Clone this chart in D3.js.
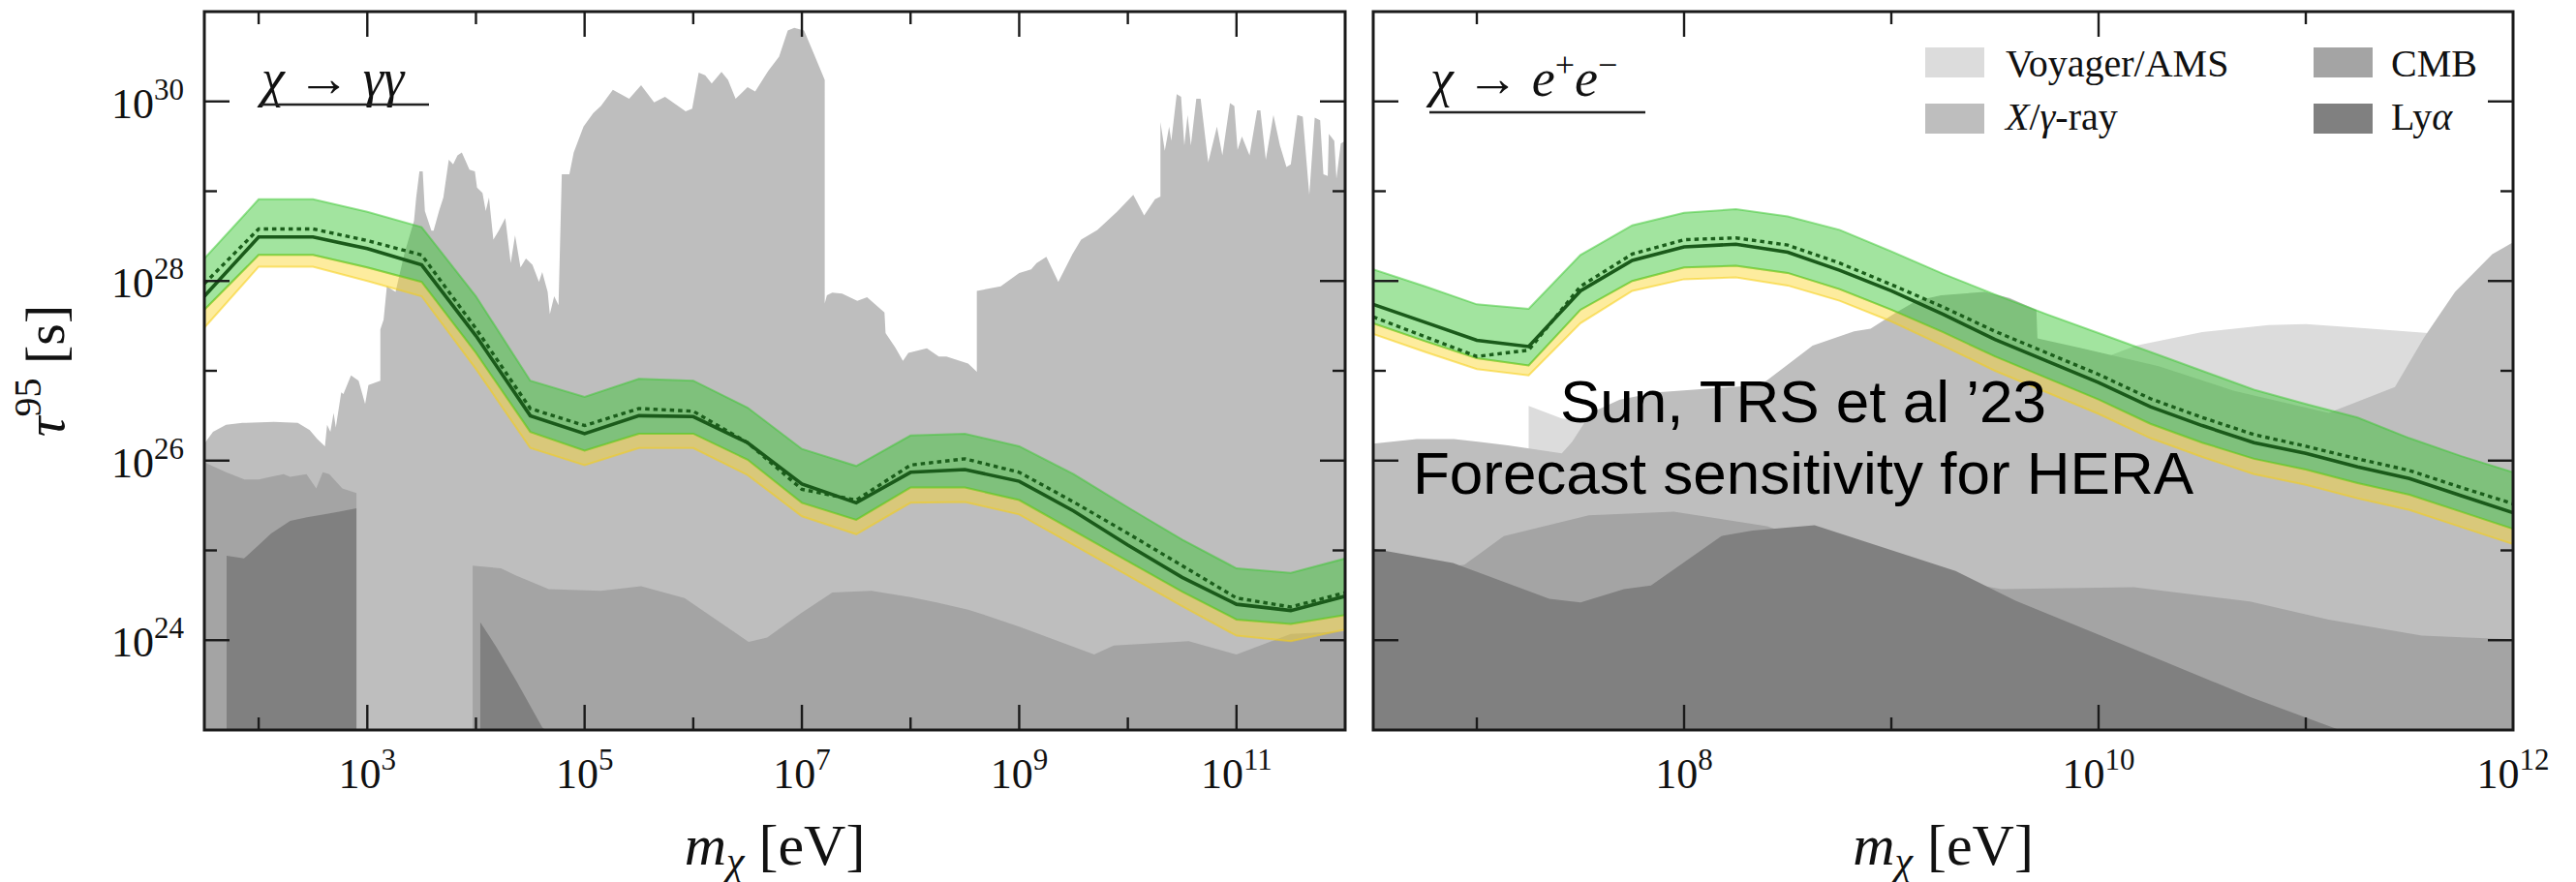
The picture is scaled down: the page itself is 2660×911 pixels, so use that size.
<!DOCTYPE html>
<html>
<head>
<meta charset="utf-8">
<script src="https://cdn.jsdelivr.net/npm/d3@7/dist/d3.min.js"></script>
<style>
  html, body { margin: 0; padding: 0; background: #ffffff; }
  svg { display: block; }
</style>
</head>
<body>
<svg id="fig" width="2660" height="911"></svg>
<script>
// ---------------------------------------------------------------
// Data: all values are log10 (mass in eV, lifetime in s)
// ---------------------------------------------------------------

// chi -> gamma gamma : HERA forecast (half-decade mass grid)
const ggMassExp  = [1.5,2,2.5,3,3.5,4,4.5,5,5.5,6,6.5,7,7.5,8,8.5,9,9.5,10,10.5,11,11.5,12];
const ggMedian   = [27.83,28.49,28.49,28.36,28.18,27.39,26.50,26.30,26.50,26.49,26.20,25.74,25.53,25.87,25.90,25.77,25.44,25.06,24.70,24.40,24.33,24.49];
const ggExpected = [27.97,28.58,28.58,28.45,28.29,27.47,26.58,26.39,26.58,26.55,26.20,25.68,25.56,25.95,26.02,25.87,25.54,25.19,24.83,24.47,24.37,24.53];
const ggBandHi   = [28.25,28.91,28.91,28.77,28.60,27.83,26.89,26.71,26.91,26.89,26.59,26.13,25.94,26.28,26.30,26.16,25.85,25.48,25.12,24.80,24.75,24.91];
const ggBandLo   = [27.68,28.29,28.29,28.15,27.99,27.20,26.32,26.11,26.30,26.30,26.01,25.53,25.34,25.70,25.70,25.56,25.22,24.88,24.54,24.23,24.18,24.28];
const ggBand2Lo  = [27.48,28.16,28.16,28.00,27.83,27.02,26.14,25.95,26.14,26.14,25.84,25.38,25.18,25.53,25.54,25.40,25.06,24.72,24.38,24.05,23.99,24.12];

// chi -> e+ e- : HERA forecast (quarter-decade mass grid)
const eeMassExp  = [6.5,6.75,7,7.25,7.5,7.75,8,8.25,8.5,8.75,9,9.25,9.5,9.75,10,10.25,10.5,10.75,11,11.25,11.5,11.75,12];
const eeMedian   = [27.74,27.54,27.34,27.27,27.89,28.23,28.38,28.41,28.32,28.12,27.89,27.63,27.35,27.11,26.87,26.60,26.39,26.20,26.08,25.93,25.80,25.61,25.42];
const eeExpected = [27.60,27.38,27.16,27.23,27.94,28.30,28.46,28.48,28.40,28.20,27.96,27.71,27.44,27.20,26.96,26.69,26.48,26.29,26.16,26.02,25.89,25.70,25.52];
const eeBandHi   = [28.13,27.94,27.74,27.69,28.29,28.62,28.76,28.80,28.72,28.57,28.33,28.08,27.85,27.63,27.42,27.21,27.00,26.79,26.63,26.48,26.25,26.05,25.87];
const eeBandLo   = [27.53,27.33,27.14,27.06,27.68,28.00,28.15,28.17,28.09,27.91,27.68,27.43,27.16,26.92,26.68,26.41,26.20,26.02,25.90,25.75,25.62,25.43,25.24];
const eeBand2Lo  = [27.41,27.21,27.02,26.95,27.53,27.89,28.02,28.04,27.95,27.78,27.55,27.28,27.00,26.76,26.52,26.25,26.04,25.85,25.73,25.58,25.45,25.26,25.07];

// Existing limits, chi -> gamma gamma : [log10 m, log10 tau] along the upper edge
const ggXray = [[1.50,26.19],[1.58,26.32],[1.70,26.40],[1.85,26.42],[2.14,26.43],[2.36,26.42],[2.47,26.34],[2.54,26.24],[2.61,26.16],[2.63,26.40],[2.66,26.32],[2.69,26.53],[2.71,26.37],[2.76,26.76],[2.78,26.74],[2.85,26.95],[2.92,26.89],[2.98,26.63],[3.01,26.84],[3.12,26.89],[3.12,27.46],[3.15,27.57],[3.18,27.94],[3.26,27.88],[3.34,28.30],[3.43,28.67],[3.45,28.93],[3.48,29.22],[3.51,29.22],[3.53,28.78],[3.59,28.56],[3.61,28.56],[3.66,28.78],[3.70,28.93],[3.75,29.35],[3.79,29.30],[3.83,29.40],[3.87,29.43],[3.90,29.35],[3.94,29.24],[3.99,29.22],[4.01,29.04],[4.06,28.98],[4.09,28.78],[4.12,28.93],[4.16,28.46],[4.21,28.56],[4.27,28.70],[4.32,28.20],[4.36,28.51],[4.41,28.15],[4.46,28.25],[4.52,28.18],[4.58,27.99],[4.61,28.10],[4.66,27.88],[4.68,27.63],[4.72,27.83],[4.76,27.73],[4.79,29.19],[4.86,29.19],[4.90,29.43],[4.99,29.72],[5.08,29.87],[5.15,29.95],[5.26,30.13],[5.41,30.03],[5.52,30.18],[5.64,29.99],[5.74,30.05],[5.93,29.89],[5.99,29.92],[6.05,30.32],[6.11,30.29],[6.17,30.20],[6.26,30.33],[6.32,30.24],[6.39,30.03],[6.50,30.16],[6.57,30.11],[6.69,30.34],[6.79,30.50],[6.87,30.79],[6.93,30.82],[7.02,30.79],[7.11,30.53],[7.21,30.24],[7.21,27.75],[7.23,27.84],[7.28,27.87],[7.37,27.86],[7.51,27.78],[7.60,27.82],[7.76,27.65],[7.77,27.42],[7.86,27.26],[7.93,27.11],[7.98,27.20],[8.15,27.25],[8.26,27.16],[8.33,27.16],[8.53,27.08],[8.61,26.99],[8.61,27.89],[8.83,27.94],[9.00,28.09],[9.11,28.13],[9.16,28.20],[9.25,28.27],[9.36,27.99],[9.49,28.30],[9.57,28.46],[9.72,28.57],[9.90,28.77],[10.05,28.96],[10.15,28.73],[10.25,28.91],[10.30,28.94],[10.30,29.77],[10.34,29.45],[10.38,29.72],[10.40,29.56],[10.45,30.08],[10.49,30.05],[10.52,29.51],[10.55,29.85],[10.58,29.51],[10.63,30.03],[10.67,30.03],[10.74,29.32],[10.82,29.72],[10.87,29.40],[10.94,29.98],[10.98,29.95],[11.01,29.46],[11.05,29.61],[11.12,29.40],[11.19,29.90],[11.22,29.90],[11.27,29.35],[11.34,29.85],[11.40,29.51],[11.46,29.27],[11.50,29.30],[11.56,29.85],[11.61,29.83],[11.67,28.96],[11.72,29.82],[11.77,29.79],[11.80,29.19],[11.84,29.17],[11.85,29.64],[11.90,29.56],[11.92,29.14],[11.96,29.53],[12.00,29.56]];
const ggCmbLow  = [[1.50,25.98],[1.70,25.87],[1.87,25.79],[2.00,25.79],[2.11,25.82],[2.23,25.85],[2.29,25.82],[2.44,25.85],[2.53,25.69],[2.59,25.87],[2.65,25.85],[2.77,25.69],[2.90,25.64]];
const ggCmbHigh = [[3.97,24.83],[4.23,24.80],[4.37,24.72],[4.67,24.57],[5.15,24.55],[5.52,24.60],[5.92,24.47],[6.51,23.98],[6.68,24.03],[6.99,24.30],[7.28,24.53],[7.64,24.55],[8.00,24.48],[8.24,24.42],[8.53,24.34],[8.71,24.27],[9.00,24.15],[9.69,23.84],[9.87,23.94],[10.56,23.99],[11.00,23.84],[11.50,24.07],[12.00,24.10]];
const ggLyaLow  = [[1.705,24.94],[1.865,24.91],[2.00,25.06],[2.115,25.19],[2.29,25.33],[2.445,25.37],[2.59,25.40],[2.74,25.43],[2.90,25.47]];
const ggLyaHigh = [[4.04,24.20],[4.19,23.92],[4.37,23.55],[4.61,23.03],[4.64,23.00]];

// Existing limits, chi -> e+ e-
const eeVoyager = [[7.25,26.61],[7.41,26.47],[7.60,26.42],[8.50,26.60],[9.50,26.90],[10.00,27.12],[10.18,27.28],[10.50,27.43],[10.82,27.51],[11.00,27.52],[11.25,27.48],[11.59,27.42],[12.00,27.20]];
const eeXray = [[6.50,26.19],[6.71,26.24],[6.89,26.24],[7.15,26.17],[7.41,26.08],[7.46,26.21],[7.55,26.53],[7.69,26.68],[7.87,26.76],[8.23,26.82],[8.37,26.84],[8.49,27.05],[8.62,27.28],[8.82,27.44],[8.90,27.47],[9.01,27.63],[9.12,27.78],[9.24,27.84],[9.45,27.88],[9.57,27.81],[9.70,27.68],[9.705,27.36],[9.92,27.25],[10.29,27.05],[10.65,26.78],[11.11,26.53],[11.43,26.82],[11.57,27.37],[11.72,27.88],[11.90,28.30],[12.00,28.43]];
const eeCmb = [[6.50,24.70],[6.94,24.84],[7.13,25.16],[7.54,25.39],[7.95,25.43],[8.40,25.27],[9.00,24.80],[9.53,24.57],[10.17,24.59],[10.73,24.43],[11.11,24.23],[11.56,24.05],[12.00,24.01]];
const eeLya = [[6.50,25.02],[6.885,24.86],[7.35,24.46],[7.50,24.42],[7.71,24.57],[7.84,24.61],[8.18,25.16],[8.33,25.22],[8.63,25.28],[9.31,24.77],[9.60,24.44],[10.32,23.76],[10.73,23.37],[11.15,23.01],[11.20,23.00]];

// Axis ticks (decade exponents)
const tauTicks        = [24,25,26,27,28,29,30];
const tauTickLabels   = [24,26,28,30];
const ggMassTicks     = [2,3,4,5,6,7,8,9,10,11];
const ggMassLabels    = [3,5,7,9,11];
const eeMassTicks     = [7,8,9,10,11];
const eeMassLabels    = [8,10,12];

// Legend entries
const legendNames  = ["Voyager/AMS", "X/γ-ray", "CMB", "Lyα"];
const legendColors = ["#dcdcdc", "#bebebe", "#a4a4a4", "#808080"];

// ---------------------------------------------------------------
const P = v => Math.pow(10, v);
const svg = d3.select("#fig");
const SERIF = "'Liberation Serif', 'DejaVu Serif', serif";
const SANS  = "'Liberation Sans', Arial, sans-serif";

const yTop = 12, yBot = 754;
const y = d3.scaleLog().domain([1e23, 1e31]).range([yBot, yTop]);

const panels = [
  {
    id: "gg",
    x: d3.scaleLog().domain([P(1.5), 1e12]).range([211, 1389]),
    mass: ggMassExp, med: ggMedian, exp: ggExpected, hi: ggBandHi, lo: ggBandLo, lo2: ggBand2Lo,
    layers: [
      { data: ggXray,    color: legendColors[1] },
      { data: ggCmbLow,  color: legendColors[2] },
      { data: ggCmbHigh, color: legendColors[2] },
      { data: ggLyaLow,  color: legendColors[3] },
      { data: ggLyaHigh, color: legendColors[3] }
    ],
    xTicks: ggMassTicks, xLabels: ggMassLabels, majorParity: 1, yLabels: true
  },
  {
    id: "ee",
    x: d3.scaleLog().domain([P(6.5), 1e12]).range([1418, 2595]),
    mass: eeMassExp, med: eeMedian, exp: eeExpected, hi: eeBandHi, lo: eeBandLo, lo2: eeBand2Lo,
    layers: [
      { data: eeVoyager, color: legendColors[0] },
      { data: eeXray,    color: legendColors[1] },
      { data: eeCmb,     color: legendColors[2] },
      { data: eeLya,     color: legendColors[3] }
    ],
    xTicks: eeMassTicks, xLabels: eeMassLabels, majorParity: 0, yLabels: false
  }
];

const defs = svg.append("defs");

panels.forEach(p => {
  const [x0, x1] = p.x.range();
  defs.append("clipPath").attr("id", "clip-" + p.id)
    .append("rect").attr("x", x0).attr("y", yTop).attr("width", x1 - x0).attr("height", yBot - yTop);

  const plot = svg.append("g").attr("clip-path", `url(#clip-${p.id})`);

  // shaded exclusion regions
  const region = d3.area()
    .x(d => p.x(P(d[0])))
    .y0(y(1e23))
    .y1(d => y(P(d[1])));
  p.layers.forEach(L => {
    plot.append("path").datum(L.data).attr("d", region).attr("fill", L.color);
  });

  const idx = d3.range(p.mass.length);
  const mx = i => p.x(P(p.mass[i]));

  // 2-sigma lower strip (yellow) and 1-sigma band (green)
  const yellow = d3.area().x(mx).y0(i => y(P(p.lo2[i]))).y1(i => y(P(p.lo[i])));
  plot.append("path").datum(idx).attr("d", yellow)
    .attr("fill", "rgba(250,212,40,0.45)")
    .attr("stroke", "rgba(245,205,20,0.55)").attr("stroke-width", 2);

  const green = d3.area().x(mx).y0(i => y(P(p.lo[i]))).y1(i => y(P(p.hi[i])));
  plot.append("path").datum(idx).attr("d", green)
    .attr("fill", "rgba(52,196,45,0.46)")
    .attr("stroke", "rgba(60,200,50,0.5)").attr("stroke-width", 2);

  const line = arr => d3.line().x(mx).y(i => y(P(arr[i])));
  plot.append("path").datum(idx).attr("d", line(p.exp))
    .attr("fill", "none").attr("stroke", "#1b5e1b").attr("stroke-width", 3.4)
    .attr("stroke-dasharray", "4.5,4");
  plot.append("path").datum(idx).attr("d", line(p.med))
    .attr("fill", "none").attr("stroke", "#1a5a1a").attr("stroke-width", 3.6);

  // frame and inward ticks on all four sides
  const axes = svg.append("g").attr("stroke", "#1a1a1a").attr("fill", "none");
  const major = 26, minor = 13;
  p.xTicks.forEach(e => {
    const len = (e % 2 === p.majorParity) ? major : minor;
    const xx = p.x(P(e));
    axes.append("line").attr("x1", xx).attr("x2", xx).attr("y1", yBot).attr("y2", yBot - len).attr("stroke-width", 2.4);
    axes.append("line").attr("x1", xx).attr("x2", xx).attr("y1", yTop).attr("y2", yTop + len).attr("stroke-width", 2.4);
  });
  tauTicks.forEach(e => {
    const len = (e % 2 === 0) ? major : minor;
    const yy = y(P(e));
    axes.append("line").attr("x1", x0).attr("x2", x0 + len).attr("y1", yy).attr("y2", yy).attr("stroke-width", 2.4);
    axes.append("line").attr("x1", x1).attr("x2", x1 - len).attr("y1", yy).attr("y2", yy).attr("stroke-width", 2.4);
  });
  axes.append("rect").attr("x", x0).attr("y", yTop).attr("width", x1 - x0).attr("height", yBot - yTop)
    .attr("stroke-width", 3);

  // tick labels 10^n
  const power = (sel, e) => {
    sel.append("tspan").text("10");
    sel.append("tspan").attr("dy", -19).attr("font-size", 31).text(String(e));
  };
  p.xLabels.forEach(e => {
    const t = svg.append("text").attr("x", p.x(P(e))).attr("y", 814)
      .attr("text-anchor", "middle").attr("font-family", SERIF).attr("font-size", 44).attr("fill", "#111");
    power(t, e);
  });
  if (p.yLabels) {
    tauTickLabels.forEach(e => {
      const t = svg.append("text").attr("x", 190).attr("y", y(P(e)) + 17)
        .attr("text-anchor", "end").attr("font-family", SERIF).attr("font-size", 44).attr("fill", "#111");
      power(t, e);
    });
  }

  // x axis title
  const xt = svg.append("text").attr("x", (x0 + x1) / 2).attr("y", 893)
    .attr("text-anchor", "middle").attr("font-family", SERIF).attr("font-size", 60).attr("fill", "#111");
  xt.append("tspan").attr("font-style", "italic").text("m");
  xt.append("tspan").attr("font-style", "italic").attr("font-size", 42).attr("dy", 10).text("χ");
  xt.append("tspan").attr("dy", -10).text(" [eV]");
});

// y axis title
const yt = svg.append("text").attr("transform", "translate(66,383) rotate(-90)")
  .attr("text-anchor", "middle").attr("font-family", SERIF).attr("font-size", 58).attr("fill", "#111");
yt.append("tspan").attr("font-style", "italic").text("τ");
yt.append("tspan").attr("font-size", 40).attr("dy", -24).text("95");
yt.append("tspan").attr("dy", 24).text(" [s]");

// channel titles (underlined)
const t1 = svg.append("text").attr("x", 270).attr("y", 99)
  .attr("font-family", SERIF).attr("font-size", 54).attr("fill", "#111");
t1.append("tspan").attr("font-style", "italic").text("χ");
t1.append("tspan").text(" → ");
t1.append("tspan").attr("font-style", "italic").text("γγ");
svg.append("line").attr("x1", 269).attr("x2", 443).attr("y1", 108).attr("y2", 108)
  .attr("stroke", "#222").attr("stroke-width", 2.6);

const t2 = svg.append("text").attr("x", 1477).attr("y", 99)
  .attr("font-family", SERIF).attr("font-size", 54).attr("fill", "#111");
t2.append("tspan").attr("font-style", "italic").text("χ");
t2.append("tspan").text(" → ");
t2.append("tspan").attr("font-style", "italic").text("e");
t2.append("tspan").attr("font-size", 36).attr("dy", -20).text("+");
t2.append("tspan").attr("font-style", "italic").attr("dy", 20).text("e");
t2.append("tspan").attr("font-size", 36).attr("dy", -20).text("−");
svg.append("line").attr("x1", 1476).attr("x2", 1699).attr("y1", 116).attr("y2", 116)
  .attr("stroke", "#222").attr("stroke-width", 2.6);

// legend
const legendPos = [[1988, 49, 2071, 79], [1988, 107, 2071, 134], [2389, 49, 2469, 79], [2389, 107, 2469, 134]];
legendNames.forEach((name, i) => {
  const [px, py, tx, ty] = legendPos[i];
  svg.append("rect").attr("x", px).attr("y", py).attr("width", 61).attr("height", 31).attr("fill", legendColors[i]);
  const t = svg.append("text").attr("x", tx).attr("y", ty)
    .attr("font-family", SERIF).attr("font-size", 40).attr("fill", "#111");
  if (name === "X/γ-ray") {
    t.append("tspan").attr("font-style", "italic").text("X");
    t.append("tspan").text("/");
    t.append("tspan").attr("font-style", "italic").text("γ");
    t.append("tspan").text("-ray");
  } else if (name === "Lyα") {
    t.append("tspan").text("Ly");
    t.append("tspan").attr("font-style", "italic").text("α");
  } else {
    t.text(name);
  }
});

// annotation
const note = svg.append("text").attr("font-family", SANS).attr("font-size", 62)
  .attr("fill", "#000").attr("text-anchor", "middle");
note.append("tspan").attr("x", 1862).attr("y", 436).text("Sun, TRS et al ’23");
note.append("tspan").attr("x", 1862).attr("y", 510).text("Forecast sensitivity for HERA");
</script>
</body>
</html>
